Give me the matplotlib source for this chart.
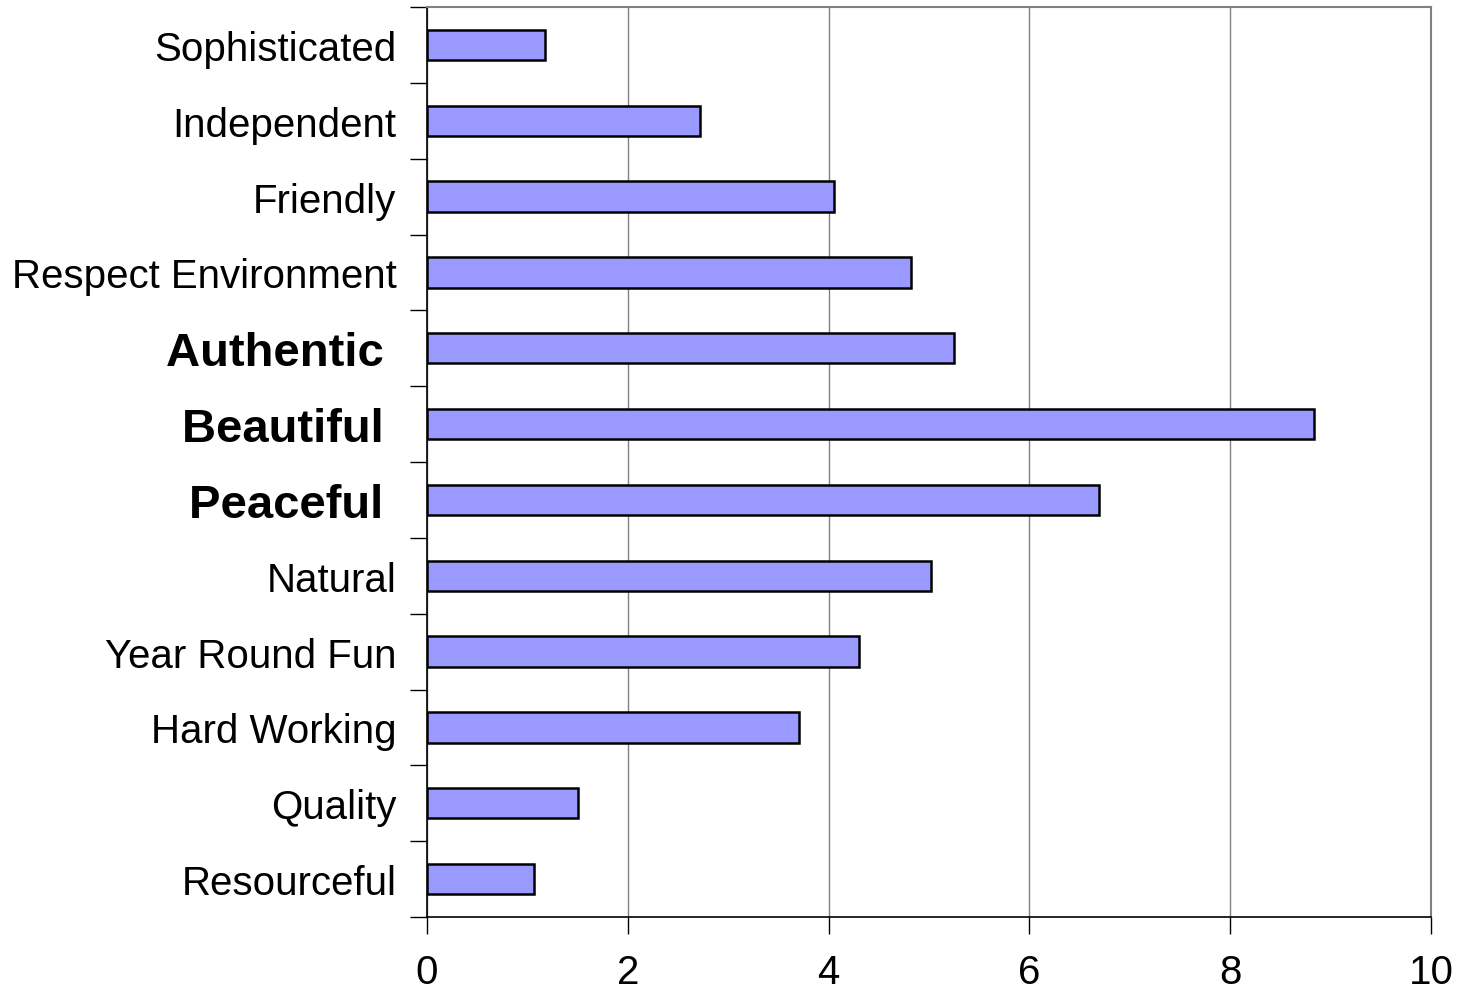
import matplotlib.pyplot as plt
from matplotlib.ticker import MultipleLocator, FixedLocator, NullFormatter

plt.rcParams['font.family'] = ['Liberation Sans', 'DejaVu Sans']

# attributes, listed top to bottom
labels = ['Sophisticated', 'Independent', 'Friendly', 'Respect Environment',
          'Authentic', 'Beautiful', 'Peaceful', 'Natural', 'Year Round Fun',
          'Hard Working', 'Quality', 'Resourceful']
scores = [1.18, 2.72, 4.05, 4.82, 5.25, 8.83, 6.69, 5.02, 4.30, 3.71, 1.50, 1.07]
bold = ['Authentic', 'Beautiful', 'Peaceful']

fig = plt.figure(figsize=(14.58, 9.95), dpi=100)
ax = fig.add_axes([427 / 1458, 1 - 918 / 995, (1431 - 427) / 1458, (918 - 8) / 995])

pos = list(range(len(labels)))
ax.barh(pos, scores, height=0.4, color='#9999FF', edgecolor='black',
        linewidth=1.8, zorder=3)

ax.set_xlim(0, 10)
ax.set_ylim(len(labels) - 0.5, -0.5)
ax.xaxis.set_major_locator(MultipleLocator(2))
ax.grid(axis='x', color='#808080', linewidth=1.0, zorder=0)

ax.tick_params(axis='y', which='major', length=0, pad=22, labelsize=29)
ax.tick_params(axis='y', which='minor', length=12, width=1.0, color='black')
ax.tick_params(axis='x', length=12, width=1.0, pad=14, labelsize=29)

# category labels, ticks sit between the bars
ax.set_yticks(pos)
ax.set_yticklabels([l + ' ' if l in bold else l for l in labels])
for t in ax.get_yticklabels():
    if t.get_text().strip() in bold:
        t.set_fontweight('bold')
        t.set_fontsize(34)
ax.yaxis.set_minor_locator(FixedLocator([p - 0.5 for p in pos] + [len(pos) - 0.5]))
ax.yaxis.set_minor_formatter(NullFormatter())

for side in ['top', 'right']:
    ax.spines[side].set_color('#808080')
    ax.spines[side].set_linewidth(1.5)
for side in ['left', 'bottom']:
    ax.spines[side].set_color('black')
    ax.spines[side].set_linewidth(1.2)

fig.savefig('out.png', dpi=100)
